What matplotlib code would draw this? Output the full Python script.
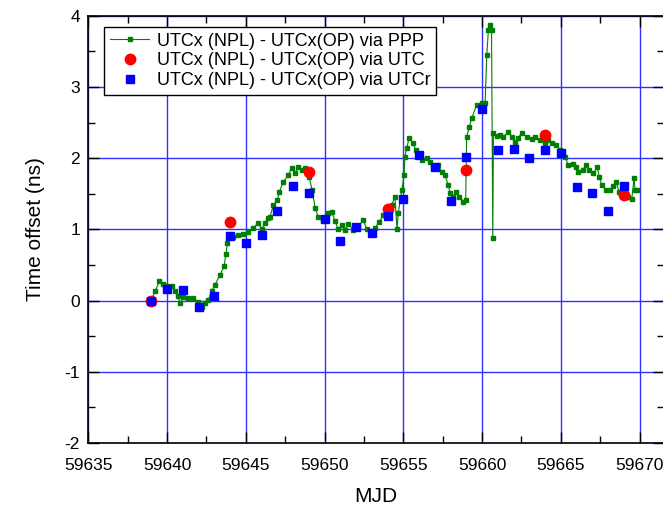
import matplotlib
matplotlib.use("Agg")
import matplotlib.pyplot as plt
from matplotlib.ticker import MultipleLocator

plt.rcParams['font.family'] = ['Liberation Sans', 'DejaVu Sans']
plt.rcParams['axes.unicode_minus'] = False

# PPP series (MJD, ns)
ppp_mjd = [59638.98, 59639.24, 59639.51, 59639.76, 59640.02, 59640.29, 59640.50, 59640.71,
           59640.82, 59641.03, 59641.35, 59641.67, 59641.98, 59642.20, 59642.41, 59642.62,
           59642.83, 59643.04, 59643.36, 59643.62, 59643.74, 59643.83, 59643.96, 59644.20,
           59644.52, 59644.84, 59645.16, 59645.48, 59645.79, 59646.00, 59646.20, 59646.43,
           59646.54, 59646.75, 59647.00, 59647.13, 59647.38, 59647.70, 59647.91, 59648.12,
           59648.33, 59648.55, 59648.76, 59649.01, 59649.22, 59649.40, 59649.60, 59649.92,
           59650.24, 59650.45, 59650.66, 59650.87, 59651.09, 59651.30, 59651.51, 59651.83,
           59652.14, 59652.46, 59652.68, 59653.00, 59653.20, 59653.48, 59653.73, 59653.95,
           59654.26, 59654.47, 59654.60, 59654.68, 59654.90, 59655.05, 59655.10, 59655.21,
           59655.38, 59655.60, 59655.80, 59655.95, 59656.17, 59656.48, 59656.70, 59656.90,
           59657.22, 59657.43, 59657.65, 59657.86, 59657.97, 59658.13, 59658.35, 59658.55,
           59658.81, 59658.96, 59659.02, 59659.19, 59659.34, 59659.66, 59659.98, 59660.19,
           59660.30, 59660.40, 59660.50, 59660.60, 59660.68, 59660.72, 59660.93, 59661.14,
           59661.35, 59661.67, 59661.88, 59662.10, 59662.30, 59662.52, 59662.84, 59663.15,
           59663.36, 59663.68, 59664.00, 59664.20, 59664.42, 59664.70, 59664.95, 59665.27,
           59665.48, 59665.76, 59665.97, 59666.11, 59666.39, 59666.60, 59666.81, 59667.06,
           59667.32, 59667.44, 59667.60, 59667.87, 59668.12, 59668.33, 59668.50, 59668.71,
           59668.97, 59669.29, 59669.50, 59669.65, 59669.71, 59669.82]
ppp_val = [0.00, 0.13, 0.27, 0.24, 0.21, 0.20, 0.14, 0.06,
           -0.04, 0.05, 0.03, 0.03, -0.02, -0.09, -0.04, 0.01,
           0.13, 0.22, 0.36, 0.48, 0.66, 0.81, 0.91, 0.90,
           0.92, 0.94, 0.97, 1.02, 1.09, 1.00, 1.09, 1.16,
           1.18, 1.34, 1.41, 1.53, 1.67, 1.76, 1.86, 1.79,
           1.87, 1.83, 1.86, 1.74, 1.55, 1.30, 1.18, 1.13,
           1.23, 1.25, 1.12, 1.00, 1.06, 0.99, 1.08, 0.99,
           1.04, 1.13, 1.00, 0.97, 1.02, 1.11, 1.20, 1.25,
           1.34, 1.46, 1.00, 1.23, 1.55, 1.76, 2.02, 2.14,
           2.29, 2.21, 2.12, 2.05, 1.98, 2.00, 1.95, 1.88,
           1.90, 1.81, 1.76, 1.62, 1.51, 1.45, 1.53, 1.46,
           1.39, 1.41, 2.30, 2.44, 2.56, 2.75, 2.77, 2.77,
           3.45, 3.80, 3.87, 3.80, 0.88, 2.35, 2.31, 2.33,
           2.30, 2.37, 2.30, 2.23, 2.28, 2.36, 2.30, 2.27,
           2.30, 2.25, 2.21, 2.25, 2.21, 2.19, 2.11, 2.02,
           1.90, 1.92, 1.88, 1.81, 1.84, 1.90, 1.83, 1.79,
           1.87, 1.74, 1.62, 1.56, 1.55, 1.61, 1.66, 1.53,
           1.50, 1.46, 1.42, 1.72, 1.55, 1.56]

# UTC series
utc_mjd = [59639, 59644, 59649, 59654, 59659, 59664, 59669]
utc_val = [0.00, 1.10, 1.81, 1.28, 1.83, 2.32, 1.49]

# UTCr series
utcr_mjd = [59639, 59640, 59641, 59642, 59643, 59644, 59645, 59646, 59647, 59648,
            59649, 59650, 59651, 59652, 59653, 59654, 59655, 59656, 59657, 59658,
            59659, 59660, 59661, 59662, 59663, 59664, 59665, 59666, 59667, 59668, 59669]
utcr_val = [0.00, 0.16, 0.15, -0.09, 0.07, 0.91, 0.81, 0.92, 1.26, 1.61,
            1.51, 1.14, 0.84, 1.03, 0.95, 1.19, 1.42, 2.05, 1.87, 1.40,
            2.02, 2.69, 2.11, 2.13, 2.00, 2.12, 2.08, 1.60, 1.51, 1.26, 1.61]

labels = ["UTCx (NPL) - UTCx(OP) via PPP",
          "UTCx (NPL) - UTCx(OP) via UTC",
          "UTCx (NPL) - UTCx(OP) via UTCr"]

fig = plt.figure(figsize=(6.63, 5.05), dpi=100)
ax = fig.add_axes([88.3/663, 62/505, 575.7/663, 427.2/505])

ax.plot(ppp_mjd, ppp_val, '-', color='#008000', lw=0.8, marker='s', ms=2.2,
        mec='#008000', mfc='#008000', label=labels[0], zorder=3)
ax.plot(utc_mjd, utc_val, 'o', color='#ff0000', ms=7.5, mec='#ff0000',
        label=labels[1], zorder=4)
ax.plot(utcr_mjd, utcr_val, 's', color='#0000ff', ms=6.2, mec='#0000ff',
        label=labels[2], zorder=5)

ax.set_xlim(59635, 59671.55)
ax.set_ylim(-2, 4)
ax.xaxis.set_major_locator(MultipleLocator(5))
ax.xaxis.set_minor_locator(MultipleLocator(2.5))
ax.yaxis.set_major_locator(MultipleLocator(1))
ax.yaxis.set_minor_locator(MultipleLocator(0.5))
ax.xaxis.get_major_formatter().set_useOffset(False)

ax.grid(True, which='major', color='#3030ff', lw=1.0)
ax.set_axisbelow(True)
ax.tick_params(which='both', direction='in', top=True, right=True, color='black',
               width=1.0, labelsize=12.5)
ax.tick_params(axis='x', pad=11)
ax.tick_params(axis='y', pad=6)
ax.tick_params(which='major', length=8)
ax.tick_params(which='minor', length=5)
for s in ax.spines.values():
    s.set_linewidth(1.2)

ax.set_xlabel("MJD", fontsize=15, labelpad=10)
ax.set_ylabel("Time offset (ns)", fontsize=15, labelpad=14)

leg = ax.legend(loc='upper left', bbox_to_anchor=(0.0278, 0.973), borderaxespad=0,
                fontsize=13, frameon=True, fancybox=False, edgecolor='black',
                framealpha=1, labelspacing=0.15, handlelength=2.2, handletextpad=0.4,
                borderpad=0.3)
leg.get_frame().set_linewidth(1.0)

fig.savefig("out.png", dpi=100)
